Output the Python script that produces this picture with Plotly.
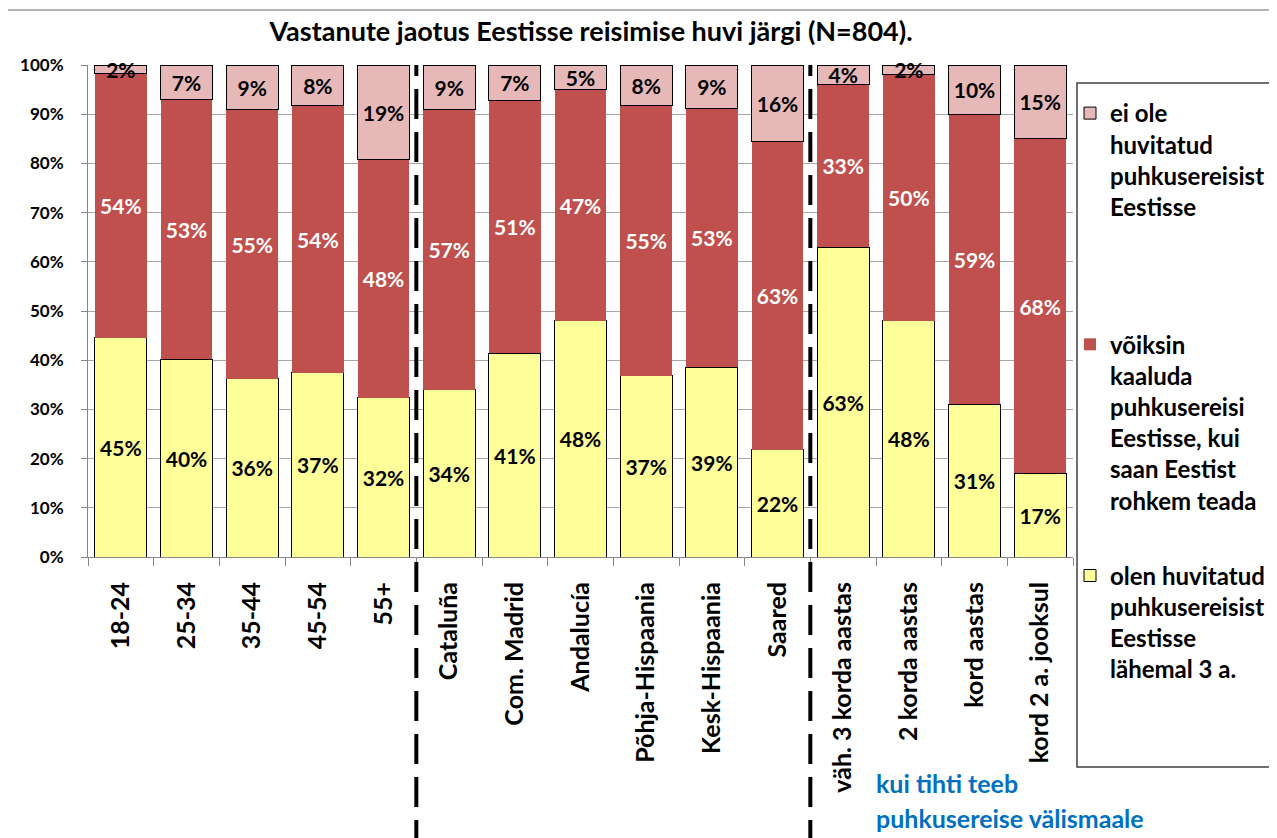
import plotly.graph_objects as go

categories = [
    "18-24", "25-34", "35-44", "45-54", "55+",
    "Cataluña", "Com. Madrid", "Andalucía", "Põhja-Hispaania", "Kesk-Hispaania", "Saared",
    "väh. 3 korda aastas", "2 korda aastas", "kord aastas", "kord 2 a. jooksul",
]
interested = [44.6, 40.2, 36.2, 37.4, 32.4, 34.0, 41.4, 48.0, 36.8, 38.6, 21.8, 63.0, 48.0, 31.0, 17.0]
maybe = [53.6, 52.8, 54.8, 54.4, 48.4, 57.0, 51.4, 47.0, 55.0, 52.6, 62.6, 33.0, 50.0, 59.0, 68.0]
not_interested = [1.8, 7.0, 9.0, 8.2, 19.2, 9.0, 7.2, 5.0, 8.2, 8.8, 15.6, 4.0, 2.0, 10.0, 15.0]
y_ticks = list(range(0, 101, 10))

name_yes = "olen huvitatud<br>puhkusereisist<br>Eestisse<br>lähemal 3 a."
name_maybe = "võiksin<br>kaaluda<br>puhkusereisi<br>Eestisse, kui<br>saan Eestist<br>rohkem teada"
name_no = "ei ole<br>huvitatud<br>puhkusereisist<br>Eestisse<br> <br> "

FONT = "Lato"
W, H = 1277, 838
OFF = 8  # page body margin: figure is drawn at (8, 8) in the window
L, T = 88 - OFF, 65 - OFF
R = W - (1073 - OFF)
B = H - (557 - OFF)
pw, ph = W - L - R, H - T - B


# page pixel -> paper coords
def px_x(x):
    return (x - OFF - L) / pw


def px_y(y):
    return (H - B - (y - OFF)) / ph


fig = go.Figure()
series = [
    (interested, name_yes, "#FFFF99", "black", 1, "g1", 3),
    (maybe, name_maybe, "#C0504D", "white", 0, "g2", 2),
    (not_interested, name_no, "#E6B9B8", "black", 1, "g3", 1),
]
for vals, name, color, tcolor, lw, grp, rank in series:
    fig.add_trace(go.Bar(
        x=categories, y=vals, name=name, legendgroup=grp, legendrank=rank,
        marker=dict(color=color, line=dict(color="black", width=lw)),
        texttemplate="%{y:.0f}%", textposition="inside", insidetextanchor="middle",
        textangle=0, cliponaxis=False,
        textfont=dict(family=FONT, size=21, color=tcolor, weight="bold"),
        hoverinfo="skip",
    ))

n = len(categories)
shapes = [
    # outer chart border
    dict(type="rect", xref="paper", yref="paper", x0=px_x(7), x1=px_x(1300), y0=px_y(860), y1=px_y(10),
         line=dict(color="#B4B4B4", width=2), layer="below"),
    # legend box
    dict(type="rect", xref="paper", yref="paper", x0=px_x(1077), x1=px_x(1300), y0=px_y(767), y1=px_y(83),
         line=dict(color="#404040", width=1.5), layer="below"),
]
for b in (4.5, 10.5):
    xp = (b + 0.5) / n
    shapes.append(dict(type="line", xref="paper", yref="paper", x0=xp, x1=xp, y0=px_y(850), y1=1.0,
                       line=dict(color="black", width=4, dash="30px,13px")))

fig.update_layout(
    width=W, height=H,
    barmode="stack", bargap=0.21,
    margin=dict(l=L, r=R, t=T, b=B, autoexpand=False),
    plot_bgcolor="white", paper_bgcolor="white",
    font=dict(family=FONT, color="black"),
    title=dict(text="Vastanute jaotus Eestisse reisimise huvi järgi (N=804).",
               font=dict(family=FONT, size=27, weight="bold", color="black"),
               xref="container", x=(591 - OFF) / W, xanchor="center",
               yref="container", y=1 - (32 - OFF) / H, yanchor="middle"),
    uniformtext=dict(minsize=21, mode="show"),
    legend=dict(
        x=px_x(1070), xanchor="left", y=px_y(91), yanchor="top",
        traceorder="grouped", tracegroupgap=41, valign="top", maxheight=1000,
        font=dict(family=FONT, size=24, weight="bold", color="black"),
        itemwidth=30, bgcolor="rgba(0,0,0,0)",
    ),
    xaxis=dict(
        range=[-0.5, n - 0.5], showline=True, linecolor="#868686", linewidth=1,
        ticks="outside", tickson="boundaries", ticklen=8, tickcolor="#868686",
        tickangle=-90, ticklabelstandoff=14,
        tickfont=dict(family=FONT, size=25, weight="bold", color="black"),
    ),
    yaxis=dict(
        range=[0, 100], tickvals=y_ticks, ticktext=[f"{v}%" for v in y_ticks],
        showgrid=True, gridcolor="#A6A6A6", gridwidth=1,
        showline=True, linecolor="#868686", ticks="outside", ticklen=6, tickcolor="#868686",
        ticklabelstandoff=14, zeroline=False,
        tickfont=dict(family=FONT, size=17, weight="bold", color="black"),
    ),
    shapes=shapes,
    annotations=[
        dict(text="kui tihti teeb", xref="paper", yref="paper", x=px_x(874), y=px_y(783),
             xanchor="left", yanchor="middle", showarrow=False,
             font=dict(family=FONT, size=25, weight="bold", color="#0070C0")),
        dict(text="puhkusereise välismaale", xref="paper", yref="paper", x=px_x(874), y=px_y(818),
             xanchor="left", yanchor="middle", showarrow=False,
             font=dict(family=FONT, size=25, weight="bold", color="#0070C0")),
    ],
)

fig.write_html("out.html")
